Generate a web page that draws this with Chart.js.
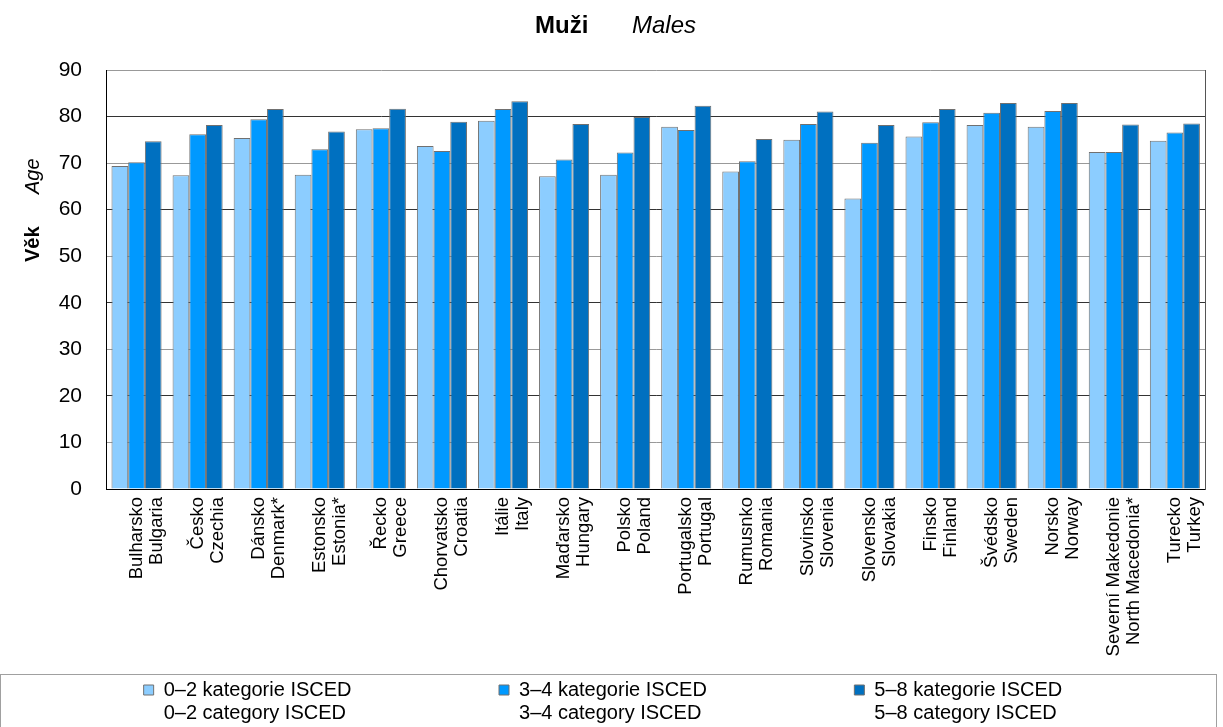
<!DOCTYPE html>
<html>
<head>
<meta charset="utf-8">
<script src="https://cdn.jsdelivr.net/npm/chart.js@4.4.0/dist/chart.umd.min.js"></script>
<style>
  html, body { margin: 0; padding: 0; background: #fff; }
</style>
</head>
<body>
<canvas id="myChart" width="1223" height="727"></canvas>
<script>
// Countries (Czech / English)
const countriesCz = ['Bulharsko', 'Česko', 'Dánsko', 'Estonsko', 'Řecko', 'Chorvatsko', 'Itálie', 'Maďarsko', 'Polsko',
    'Portugalsko', 'Rumusnko', 'Slovinsko', 'Slovensko', 'Finsko', 'Švédsko', 'Norsko', 'Severní Makedonie', 'Turecko'];
const countriesEn = ['Bulgaria', 'Czechia', 'Denmark*', 'Estonia*', 'Greece', 'Croatia', 'Italy', 'Hungary', 'Poland',
    'Portugal', 'Romania', 'Slovenia', 'Slovakia', 'Finland', 'Sweden', 'Norway', 'North Macedonia*', 'Turkey'];

// Age by ISCED category
const isced02 = [69.4, 67.4, 75.4, 67.5, 77.3, 73.7, 79.1, 67.2, 67.5, 77.8, 68.2, 75.0, 62.4, 75.7, 78.2, 77.8, 72.4, 74.8];
const isced34 = [70.2, 76.2, 79.4, 73.0, 77.5, 72.6, 81.6, 70.8, 72.3, 77.1, 70.4, 78.4, 74.4, 78.8, 80.8, 81.2, 72.4, 76.6];
const isced58 = [74.7, 78.2, 81.6, 76.8, 81.7, 78.9, 83.3, 78.4, 79.9, 82.3, 75.2, 81.1, 78.2, 81.6, 82.9, 82.9, 78.3, 78.5];

const seriesCz = ['0–2 kategorie ISCED', '3–4 kategorie ISCED', '5–8 kategorie ISCED'];
const seriesEn = ['0–2 category ISCED', '3–4 category ISCED', '5–8 category ISCED'];
const seriesColors = ['#8ccdff', '#0099ff', '#0070c0'];

const yMin = 0;
const yMax = 90;
const yStep = 10;

const titleCz = 'Muži';
const titleEn = 'Males';
const axisCz = 'Věk';
const axisEn = 'Age';

const fontFamily = "'Liberation Sans', Arial, sans-serif";
const legendFontSize = 20;
const legendPad = 3;
const legendSlot = 354; // distance between legend item starts
const legendLastText = 197; // text width given to the last item of a row

// pad legend text with spaces so the items land where the original has them
const measureCtx = document.createElement('canvas').getContext('2d');
measureCtx.font = legendFontSize + 'px ' + fontFamily;
function padText(s, width) {
    let t = s;
    while (measureCtx.measureText(t).width < width) t += ' ';
    return t;
}
function legendText(s, i) {
    const last = i === seriesCz.length - 1;
    return padText(s, last ? legendLastText : legendSlot - legendPad - 10 - legendFontSize / 2);
}

// titles with mixed bold / italic, plus the legend frame
const extraText = {
    id: 'extraText',
    afterDraw(chart) {
        const { ctx, legend } = chart;
        ctx.save();
        ctx.fillStyle = '#000';
        ctx.textBaseline = 'middle';
        ctx.textAlign = 'left';
        ctx.font = 'bold 24px ' + fontFamily;
        ctx.fillText(titleCz, 535, 26);
        ctx.font = 'italic 24px ' + fontFamily;
        ctx.fillText(titleEn, 632, 26);

        ctx.translate(33, 0);
        ctx.rotate(-Math.PI / 2);
        ctx.font = 'bold 20px ' + fontFamily;
        ctx.fillText(axisCz, -262, 0);
        ctx.font = 'italic 20px ' + fontFamily;
        ctx.fillText(axisEn, -194, 0);
        ctx.restore();

        // legend frame
        ctx.save();
        ctx.strokeStyle = '#a0a0a0';
        ctx.lineWidth = 1;
        ctx.strokeRect(0.5, legend.top - 2.5, 1216, 200);
        ctx.restore();
    }
};

const ctx = document.getElementById('myChart').getContext('2d');
new Chart(ctx, {
    type: 'bar',
    data: {
        labels: countriesCz.map((c, i) => [c, countriesEn[i]]),
        datasets: [isced02, isced34, isced58].map((d, i) => ({
            label: seriesCz[i],
            data: d,
            backgroundColor: seriesColors[i],
            borderColor: '#707070',
            borderWidth: 1,
            borderSkipped: 'bottom',
            barPercentage: 1,
            categoryPercentage: 0.82,
        })),
    },
    options: {
        responsive: false,
        animation: false,
        layout: { padding: { top: 70, right: 6, left: 0, bottom: -6 } },
        plugins: {
            title: { display: false },
            tooltip: { enabled: false },
            legend: {
                position: 'bottom',
                labels: {
                    color: '#000',
                    font: { family: fontFamily, size: legendFontSize },
                    boxWidth: 10,
                    boxHeight: 10,
                    padding: legendPad,
                    // first row: Czech names with colour boxes, second row: English names
                    generateLabels: (chart) => {
                        const czech = chart.data.datasets.map((ds, i) => ({
                            text: legendText(seriesCz[i], i),
                            fillStyle: ds.backgroundColor,
                            strokeStyle: '#707070',
                            lineWidth: 1,
                            datasetIndex: i,
                            fontColor: '#000',
                        }));
                        const english = seriesEn.map((s, i) => ({
                            text: legendText(s, i),
                            fillStyle: 'rgba(0,0,0,0)',
                            strokeStyle: 'rgba(0,0,0,0)',
                            lineWidth: 0,
                            fontColor: '#000',
                        }));
                        return czech.concat(english);
                    },
                },
            },
        },
        scales: {
            x: {
                grid: { display: false, drawTicks: false },
                border: { color: '#000', width: 1 },
                ticks: {
                    color: '#000',
                    font: { family: fontFamily, size: 18.5, lineHeight: 1.08 },
                    minRotation: 90,
                    maxRotation: 90,
                    autoSkip: false,
                    padding: 8,
                },
                afterFit: (scale) => { scale.height = 188; },
            },
            y: {
                min: yMin,
                max: yMax,
                ticks: {
                    stepSize: yStep,
                    color: '#000',
                    font: { family: fontFamily, size: 21 },
                    padding: 24,
                },
                grid: {
                    drawTicks: false,
                    color: (c) => (c.tick && c.tick.value % 20 === 0 ? '#333' : '#999'),
                    lineWidth: 1,
                },
                border: { color: '#000', width: 1 },
                afterFit: (scale) => { scale.width = 106; },
            },
            yRight: {
                position: 'right',
                min: yMin,
                max: yMax,
                ticks: { display: false },
                grid: { drawOnChartArea: false, drawTicks: false },
                border: { color: '#555', width: 1 },
                afterFit: (scale) => { scale.width = 0; },
            },
        },
    },
    plugins: [extraText],
});
</script>
</body>
</html>
